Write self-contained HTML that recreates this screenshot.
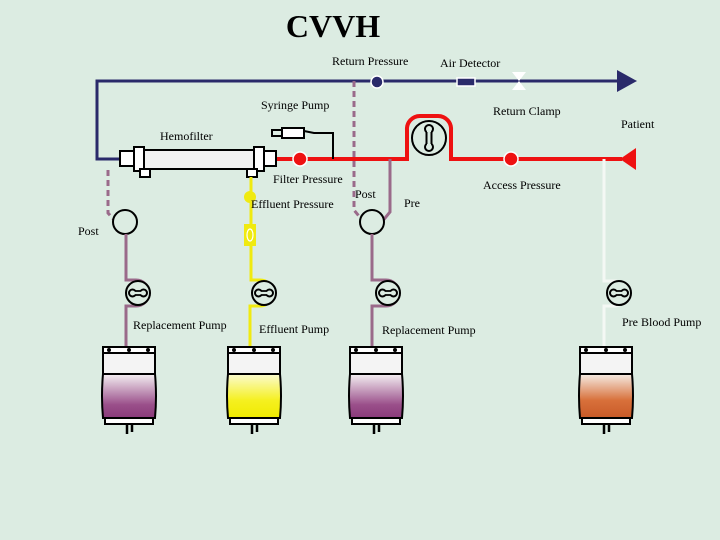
<!DOCTYPE html>
<html><head><style>
html,body{margin:0;padding:0;background:#dcece2;}
svg{display:block;font-family:"Liberation Serif",serif;}
</style></head><body>
<svg width="720" height="540" viewBox="0 0 720 540" xmlns="http://www.w3.org/2000/svg">
<defs>
<linearGradient id="gp" x1="0" y1="0" x2="0" y2="1"><stop offset="0" stop-color="#f4f0f2"/><stop offset="0.7" stop-color="#9a4f8a"/><stop offset="1" stop-color="#8a3a7a"/></linearGradient>
<linearGradient id="gy" x1="0" y1="0" x2="0" y2="1"><stop offset="0" stop-color="#fbfbd0"/><stop offset="0.6" stop-color="#f5f020"/><stop offset="1" stop-color="#f0ea00"/></linearGradient>
<linearGradient id="go" x1="0" y1="0" x2="0" y2="1"><stop offset="0" stop-color="#f5ece4"/><stop offset="0.6" stop-color="#d8703a"/><stop offset="1" stop-color="#c85a28"/></linearGradient>
<g id="pump"><circle cx="0" cy="0" r="12" fill="#dcece2" stroke="#000" stroke-width="2"/><circle cx="-5.5" cy="0" r="3.5" fill="none" stroke="#000" stroke-width="2"/><circle cx="5.5" cy="0" r="3.5" fill="none" stroke="#000" stroke-width="2"/><rect x="-4" y="-1.5" width="8" height="3" fill="#dcece2"/><path d="M-3,-2 H3 M-3,2 H3" stroke="#000" stroke-width="1.8"/></g>
</defs>
<rect width="720" height="540" fill="#dcece2"/>
<text x="333" y="37" text-anchor="middle" font-size="32" font-weight="bold">CVVH</text>

<path d="M120,159 H97 V81 H620" fill="none" stroke="#2a2a6a" stroke-width="3"/>
<polygon points="617,70 637,81 617,92" fill="#2a2a6a"/>
<circle cx="377" cy="82" r="6" fill="#2a2a6a" stroke="#fff" stroke-width="1.5"/>
<rect x="457" y="78" width="18" height="8" fill="#2a2a6a" stroke="#fff" stroke-width="1.5"/>
<polygon points="512,72 526,72 519,81 526,90 512,90 519,81" fill="#fff"/>

<path d="M276,159 H407 V130 A13,13 0 0,1 420,116 H438 A13,13 0 0,1 451,130 V159 H622" fill="none" stroke="#ee1111" stroke-width="4"/>
<polygon points="620,159 636,148 636,170" fill="#ee1111"/>
<circle cx="300" cy="159" r="7" fill="#ee1111" stroke="#fff" stroke-width="1.5"/>
<circle cx="511" cy="159" r="7" fill="#ee1111" stroke="#fff" stroke-width="1.5"/>
<circle cx="429" cy="138" r="17" fill="#dcece2" stroke="#000" stroke-width="2"/>
<circle cx="429" cy="129" r="4" fill="none" stroke="#000" stroke-width="2"/>
<circle cx="429" cy="147" r="4" fill="none" stroke="#000" stroke-width="2"/>
<rect x="427" y="131" width="4" height="14" fill="#dcece2"/>
<path d="M426.5,132 V144 M431.5,132 V144" stroke="#000" stroke-width="2"/>

<rect x="272" y="130" width="10" height="6" fill="none" stroke="#000" stroke-width="2"/>
<rect x="282" y="128" width="22" height="10" fill="#fff" stroke="#000" stroke-width="2"/>
<path d="M304,131 L314,133 H333 V159" fill="none" stroke="#000" stroke-width="2"/>

<rect x="120" y="151" width="14" height="15" fill="#fff" stroke="#000" stroke-width="2"/>
<rect x="134" y="147" width="10" height="24" fill="#fff" stroke="#000" stroke-width="2"/>
<rect x="144" y="150" width="110" height="19" fill="#f2f2f2" stroke="#000" stroke-width="2"/>
<rect x="254" y="147" width="10" height="24" fill="#fff" stroke="#000" stroke-width="2"/>
<rect x="264" y="151" width="12" height="15" fill="#fff" stroke="#000" stroke-width="2"/>
<rect x="140" y="169" width="10" height="8" fill="#fff" stroke="#000" stroke-width="2"/>
<rect x="247" y="169" width="10" height="8" fill="#fff" stroke="#000" stroke-width="2"/>

<path d="M108,170 V213 L125,232" fill="none" stroke="#9a6a8a" stroke-width="3" stroke-dasharray="6,4"/>
<circle cx="125" cy="222" r="12" fill="#dcece2" stroke="#000" stroke-width="2"/>
<path d="M126,234 V280 H136 A13,13 0 0,1 136,306 H126 V347" fill="none" stroke="#9a6a8a" stroke-width="3"/>
<use href="#pump" x="138" y="293"/>

<path d="M251,177 V280 H260 A13,13 0 0,1 260,306 H250 V347" fill="none" stroke="#f0ea10" stroke-width="3"/>
<circle cx="250" cy="197" r="6" fill="#f0ea10"/>
<rect x="244" y="224" width="12" height="22" fill="#f0ea10"/>
<ellipse cx="250" cy="235" rx="3" ry="6" fill="none" stroke="#fff" stroke-width="1.2"/>
<use href="#pump" x="264" y="293"/>

<path d="M354,81 V210 L372,232" fill="none" stroke="#9a6a8a" stroke-width="3" stroke-dasharray="6,4"/>
<path d="M390,159 V212 L372,234" fill="none" stroke="#9a6a8a" stroke-width="3"/>
<circle cx="372" cy="222" r="12" fill="#dcece2" stroke="#000" stroke-width="2"/>
<path d="M372,234 V280 H386 A13,13 0 0,1 386,306 H372 V347" fill="none" stroke="#9a6a8a" stroke-width="3"/>
<use href="#pump" x="388" y="293"/>

<path d="M604,159 V281 H616 A13,13 0 0,1 616,306 H604 V347" fill="none" stroke="#f4f8f4" stroke-width="3"/>
<use href="#pump" x="619" y="293"/>

<g transform="translate(103,0)">
<rect x="0" y="347" width="52" height="6" fill="#fff" stroke="#000" stroke-width="2"/>
<circle cx="6" cy="350" r="2"/><circle cx="26" cy="350" r="2"/><circle cx="45" cy="350" r="2"/>
<path d="M0,353 H52 V374 H0 Z" fill="#f4f4f4" stroke="#000" stroke-width="2"/>
<path d="M0,374 H52 Q54,396 52,418 H0 Q-2,396 0,374 Z" fill="url(#gp)" stroke="#000" stroke-width="2"/>
<rect x="2" y="418" width="48" height="6" fill="#fff" stroke="#000" stroke-width="2"/>
<path d="M24,424 V434 M29,424 V432" stroke="#000" stroke-width="2.5"/>
</g>
<g transform="translate(228,0)">
<rect x="0" y="347" width="52" height="6" fill="#fff" stroke="#000" stroke-width="2"/>
<circle cx="6" cy="350" r="2"/><circle cx="26" cy="350" r="2"/><circle cx="45" cy="350" r="2"/>
<path d="M0,353 H52 V374 H0 Z" fill="#f4f4f4" stroke="#000" stroke-width="2"/>
<path d="M0,374 H52 Q54,396 52,418 H0 Q-2,396 0,374 Z" fill="url(#gy)" stroke="#000" stroke-width="2"/>
<rect x="2" y="418" width="48" height="6" fill="#fff" stroke="#000" stroke-width="2"/>
<path d="M24,424 V434 M29,424 V432" stroke="#000" stroke-width="2.5"/>
</g>
<g transform="translate(350,0)">
<rect x="0" y="347" width="52" height="6" fill="#fff" stroke="#000" stroke-width="2"/>
<circle cx="6" cy="350" r="2"/><circle cx="26" cy="350" r="2"/><circle cx="45" cy="350" r="2"/>
<path d="M0,353 H52 V374 H0 Z" fill="#f4f4f4" stroke="#000" stroke-width="2"/>
<path d="M0,374 H52 Q54,396 52,418 H0 Q-2,396 0,374 Z" fill="url(#gp)" stroke="#000" stroke-width="2"/>
<rect x="2" y="418" width="48" height="6" fill="#fff" stroke="#000" stroke-width="2"/>
<path d="M24,424 V434 M29,424 V432" stroke="#000" stroke-width="2.5"/>
</g>
<g transform="translate(580,0)">
<rect x="0" y="347" width="52" height="6" fill="#fff" stroke="#000" stroke-width="2"/>
<circle cx="6" cy="350" r="2"/><circle cx="26" cy="350" r="2"/><circle cx="45" cy="350" r="2"/>
<path d="M0,353 H52 V374 H0 Z" fill="#f4f4f4" stroke="#000" stroke-width="2"/>
<path d="M0,374 H52 Q54,396 52,418 H0 Q-2,396 0,374 Z" fill="url(#go)" stroke="#000" stroke-width="2"/>
<rect x="2" y="418" width="48" height="6" fill="#fff" stroke="#000" stroke-width="2"/>
<path d="M24,424 V434 M29,424 V432" stroke="#000" stroke-width="2.5"/>
</g>

<g font-size="12" fill="#000">
<text x="332" y="65">Return Pressure</text>
<text x="440" y="67">Air Detector</text>
<text x="261" y="109">Syringe Pump</text>
<text x="493" y="115">Return Clamp</text>
<text x="621" y="128">Patient</text>
<text x="160" y="140">Hemofilter</text>
<text x="273" y="183">Filter Pressure</text>
<text x="251" y="208">Effluent Pressure</text>
<text x="355" y="198">Post</text>
<text x="404" y="207">Pre</text>
<text x="483" y="189">Access Pressure</text>
<text x="78" y="235">Post</text>
<text x="133" y="329">Replacement Pump</text>
<text x="259" y="333">Effluent Pump</text>
<text x="382" y="334">Replacement Pump</text>
<text x="622" y="326">Pre Blood Pump</text>
</g>
</svg>
</body></html>
